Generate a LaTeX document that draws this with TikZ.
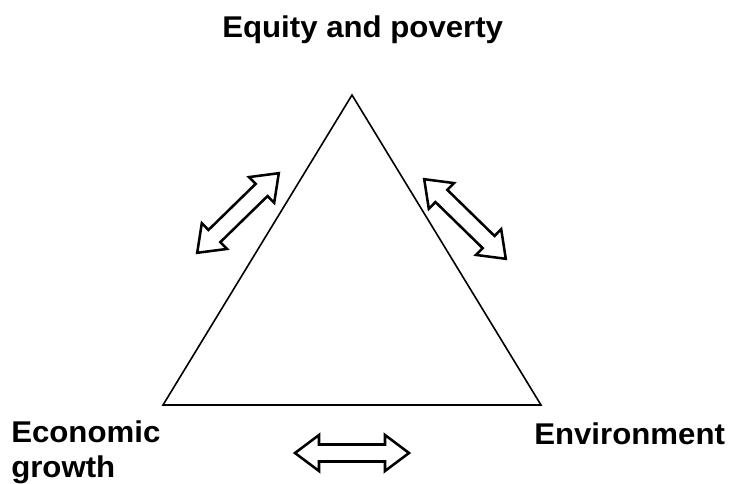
\documentclass[tikz,border=0pt]{standalone}
\usepackage{fontspec}
\setmainfont{Liberation Sans}[FakeStretch=1.04]
\begin{document}
\begin{tikzpicture}[x=0.75pt,y=-0.75pt,
  edge/.style={line width=1.2pt,line join=miter},
  arrowline/.style={line width=1.9pt,line join=miter,fill=white},
  label/.style={font=\fontsize{22.5}{26.5}\selectfont\bfseries,inner sep=0pt},
  dblarrow/.pic={
    \draw[arrowline] (-57,0) -- (-33,-18) -- (-33,-8.5) -- (33,-8.5) -- (33,-18)
      -- (57,0) -- (33,18) -- (33,8.5) -- (-33,8.5) -- (-33,18) -- cycle;
  }]
\useasboundingbox (0,0) rectangle (732,483);

% triangle corners
\coordinate (top) at (352,95);
\coordinate (bl) at (163,405);
\coordinate (br) at (541,405);
\draw[edge] (top) -- (br) -- (bl) -- cycle;

% two-way links along the sides
\pic[rotate=44.3] at (238,213) {dblarrow};
\pic[rotate=-44.3] at (465,219) {dblarrow};
\pic at (352,453) {dblarrow};

% corner labels
\node[label,anchor=base west] (equity) at (222,37) {Equity and poverty};
\node[label,align=left,anchor=north west] (growth) at (11,420) {Economic\\growth};
\node[label,anchor=base west] (env) at (534,444) {Environment};
\end{tikzpicture}
\end{document}
